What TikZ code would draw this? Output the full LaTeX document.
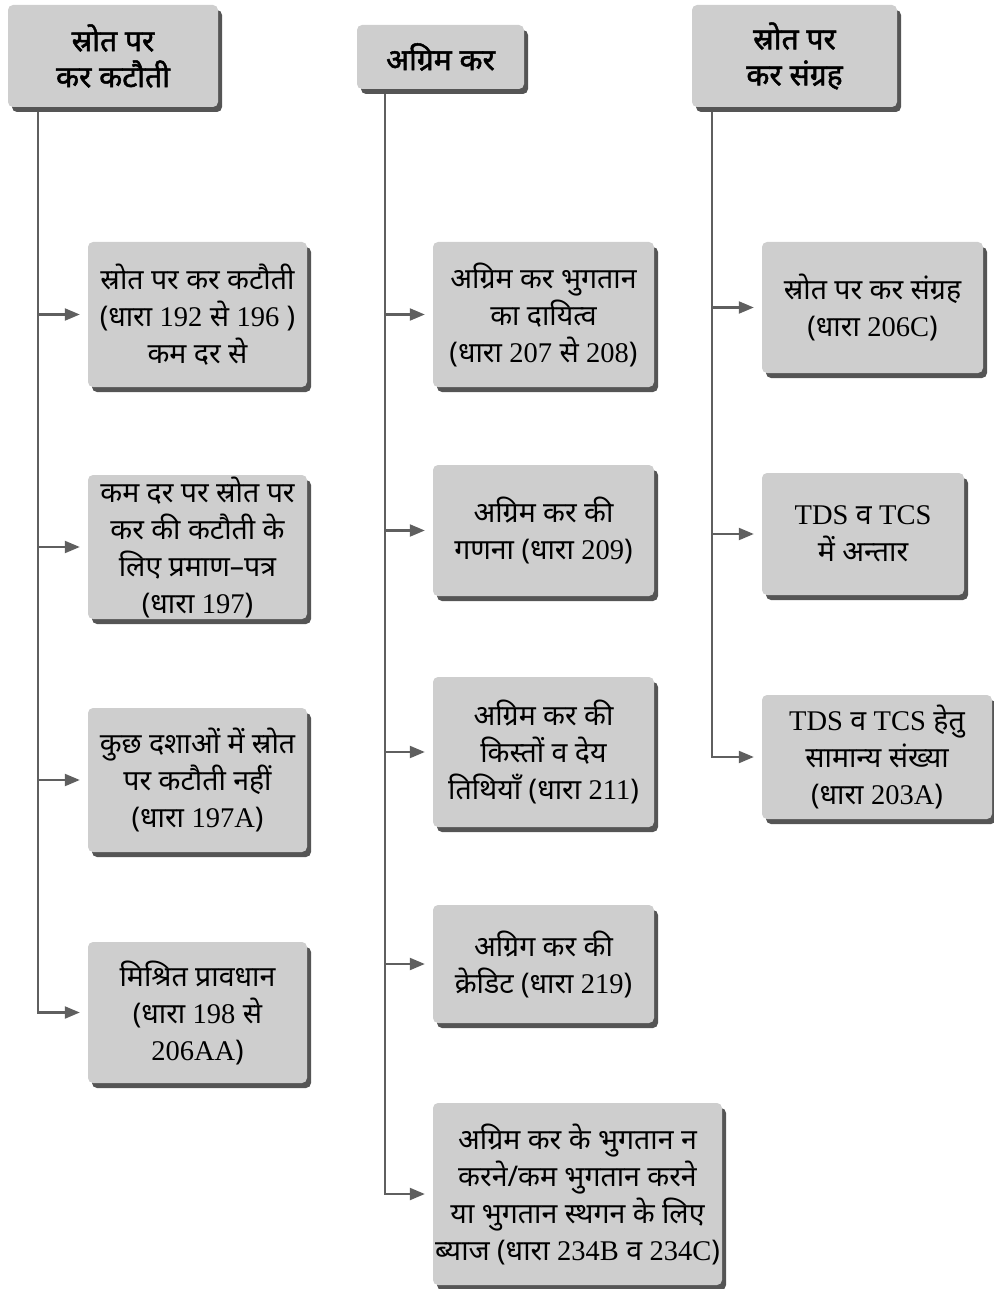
\documentclass[tikz,border=0pt]{standalone}
\usepackage{fontspec}
\setmainfont[Script=Devanagari]{Noto Sans}
\newfontfamily\headfont[Script=Devanagari,FakeBold=1.6]{Noto Sans}
\newfontfamily\romfont{Liberation Serif}
\newcommand\rom[1]{{\romfont #1}}
\usetikzlibrary{shadows,arrows.meta}
\definecolor{boxgray}{RGB}{206,206,206}
\definecolor{shadowgray}{RGB}{85,85,85}
\definecolor{linegray}{RGB}{95,95,95}
\begin{document}
\begin{tikzpicture}[x=1pt,y=-1pt,
  box/.style={fill=boxgray, rounded corners=5pt, inner sep=0pt, align=center,
    drop shadow={shadow xshift=4pt, shadow yshift=-5pt, fill=shadowgray, opacity=1},
    font=\fontsize{28.5}{37}\selectfont},
  head/.style={box, font=\fontsize{30}{36}\selectfont\headfont},
  conn/.style={draw=linegray, line width=2.2pt, -{Triangle[length=15pt,width=12pt]}, shorten >=8pt},
]
\useasboundingbox (0,0) rectangle (993,1289);
% headers
\node[head, minimum width=210pt, minimum height=102pt] (h1) at (113,56) {स्रोत पर\\कर कटौती};
\node[head, minimum width=167pt, minimum height=64pt] (h2) at (440.5,57) {अग्रिम कर};
\node[head, minimum width=205pt, minimum height=102pt] (h3) at (794.5,56) {स्रोत पर\\कर संग्रह};
% column 1
\node[box, minimum width=219pt, minimum height=145pt] (b1) at (197.5,314.5) {स्रोत पर कर कटौती\\(धारा \rom{192} से \rom{196} )\\कम दर से};
\node[box, minimum width=219pt, minimum height=144pt] (b2) at (197.5,547) {कम दर पर स्रोत पर\\कर की कटौती के\\लिए प्रमाण–पत्र\\(धारा \rom{197})};
\node[box, minimum width=219pt, minimum height=144pt] (b3) at (197.5,780) {कुछ दशाओं में स्रोत\\पर कटौती नहीं\\(धारा \rom{197A})};
\node[box, minimum width=219pt, minimum height=141pt] (b4) at (197.5,1012.5) {मिश्रित प्रावधान\\(धारा \rom{198} से\\\rom{206AA})};
% column 2
\node[box, minimum width=221pt, minimum height=145pt] (c1) at (543.5,314.5) {अग्रिम कर भुगतान\\का दायित्व\\(धारा \rom{207} से \rom{208})};
\node[box, minimum width=221pt, minimum height=131pt] (c2) at (543.5,530.5) {अग्रिम कर की\\गणना (धारा \rom{209})};
\node[box, minimum width=221pt, minimum height=150pt] (c3) at (543.5,752) {अग्रिम कर की\\किस्तों व देय\\तिथियाँ (धारा \rom{211})};
\node[box, minimum width=221pt, minimum height=118pt] (c4) at (543.5,964) {अग्रिग कर की\\क्रेडिट (धारा \rom{219})};
\node[box, minimum width=289pt, minimum height=182pt] (c5) at (577.5,1194) {अग्रिम कर के भुगतान न\\करने/कम भुगतान करने\\या भुगतान स्थगन के लिए\\ब्याज (धारा \rom{234B} व \rom{234C})};
% column 3
\node[box, minimum width=221pt, minimum height=131pt] (d1) at (872.5,307.5) {स्रोत पर कर संग्रह\\(धारा \rom{206C})};
\node[box, minimum width=202pt, minimum height=122pt] (d2) at (863,534) {\rom{TDS} व \rom{TCS}\\में अन्तार};
\node[box, minimum width=230pt, minimum height=124pt] (d3) at (877,757) {\rom{TDS} व \rom{TCS} हेतु\\सामान्य संख्या\\(धारा \rom{203A})};
% connectors
\coordinate (s1) at ([xshift=30pt,yshift=-5pt]h1.south west);
\coordinate (s2) at ([xshift=28pt,yshift=-5pt]h2.south west);
\coordinate (s3) at ([xshift=20pt,yshift=-5pt]h3.south west);
\foreach \t in {b1,b2,b3,b4} \draw[conn] (s1) |- (\t.west);
\foreach \t in {c1,c2,c3,c4,c5} \draw[conn] (s2) |- (\t.west);
\foreach \t in {d1,d2,d3} \draw[conn] (s3) |- (\t.west);
\end{tikzpicture}
\end{document}
